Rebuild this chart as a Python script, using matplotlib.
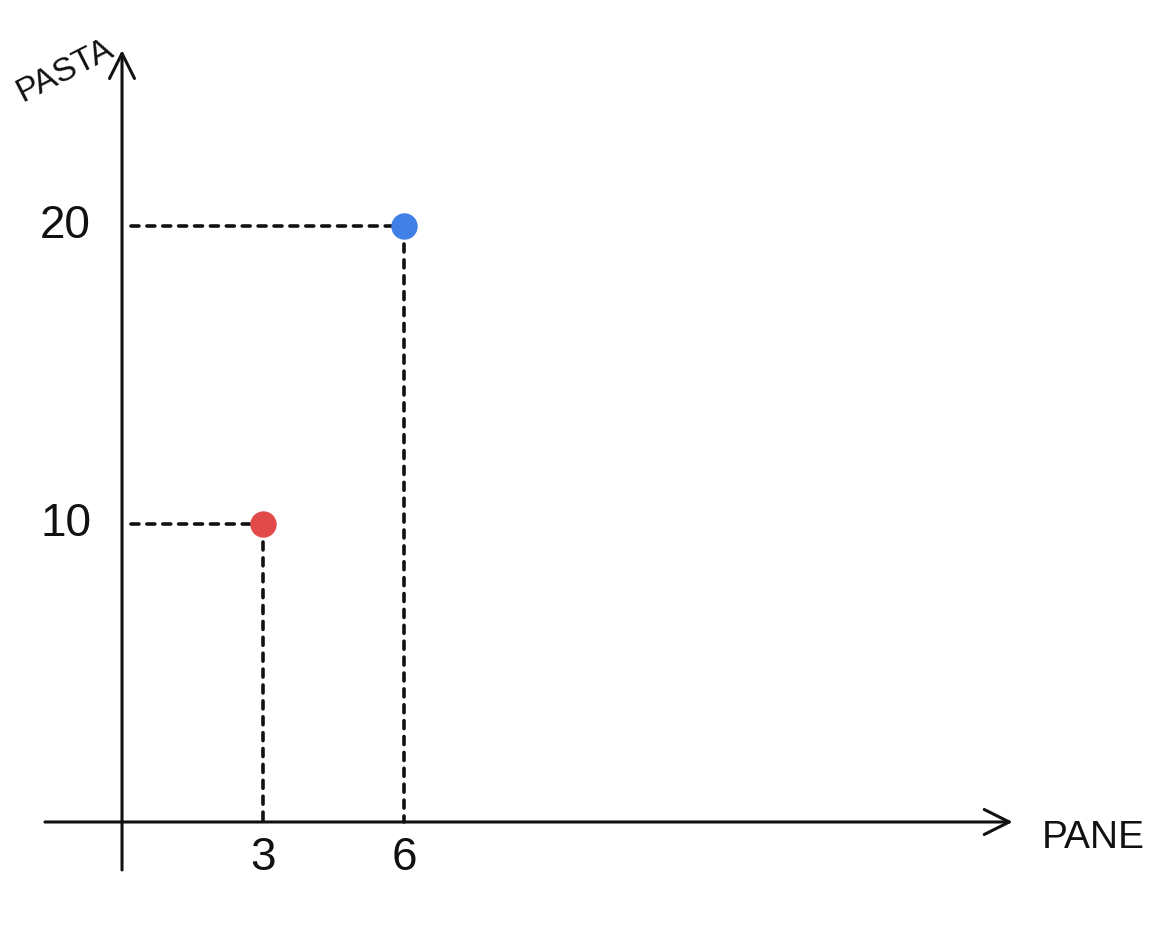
import numpy as np
import matplotlib
matplotlib.use("Agg")
import matplotlib.pyplot as plt

pane = [3, 6]
pasta = [10, 20]
colori = ["#e24a4a", "#3f7fe6"]
xtick_labels = ["3", "6"]
ytick_labels = ["10", "20"]

fig = plt.figure(figsize=(11.6, 9.46), dpi=100)
ax = fig.add_axes([0, 0, 1, 1])
ax.set_xlim(-2.596, 22.085)
ax.set_ylim(-4.161, 27.58)
ax.axis("off")

nero = "#111111"
font = ["Liberation Sans Narrow", "Liberation Sans", "DejaVu Sans"]

# assi con freccia
ax.annotate("", xy=(18.95, 0), xytext=(-1.64, 0),
            arrowprops=dict(arrowstyle="->", lw=2.2, color=nero,
                            mutation_scale=45, shrinkA=0, shrinkB=0))
ax.annotate("", xy=(0, 25.9), xytext=(0, -1.61),
            arrowprops=dict(arrowstyle="->", lw=2.2, color=nero,
                            mutation_scale=45, shrinkA=0, shrinkB=0))

# linee tratteggiate e punti
for x, y, c in zip(pane, pasta, colori):
    ax.plot([0.2, x], [y, y], color=nero, lw=2.6, ls=(0, (2.2, 2.2)),
            dash_capstyle="round")
    ax.plot([x, x], [y - 0.6, 0], color=nero, lw=2.6, ls=(0, (2.2, 2.2)),
            dash_capstyle="round")
    ax.plot(x, y, "o", color=c, markersize=18, zorder=5)

# etichette dei tick
for x, lab in zip(pane, xtick_labels):
    ax.text(x, -1.2, lab, ha="center", va="center", fontsize=33, color=nero,
            family=font)
for y, lab in zip(pasta, ytick_labels):
    ax.text(-1.2, y, lab, ha="center", va="center", fontsize=33, color=nero,
            family=font)

# nomi degli assi
ax.text(20.66, -0.54, "PANE", ha="center", va="center", fontsize=28,
        color=nero, family=font)
ax.text(-1.21, 25.2, "PASTA", ha="center", va="center", fontsize=24,
        color=nero, rotation=27, family=font)

fig.savefig("out.png", dpi=100)
